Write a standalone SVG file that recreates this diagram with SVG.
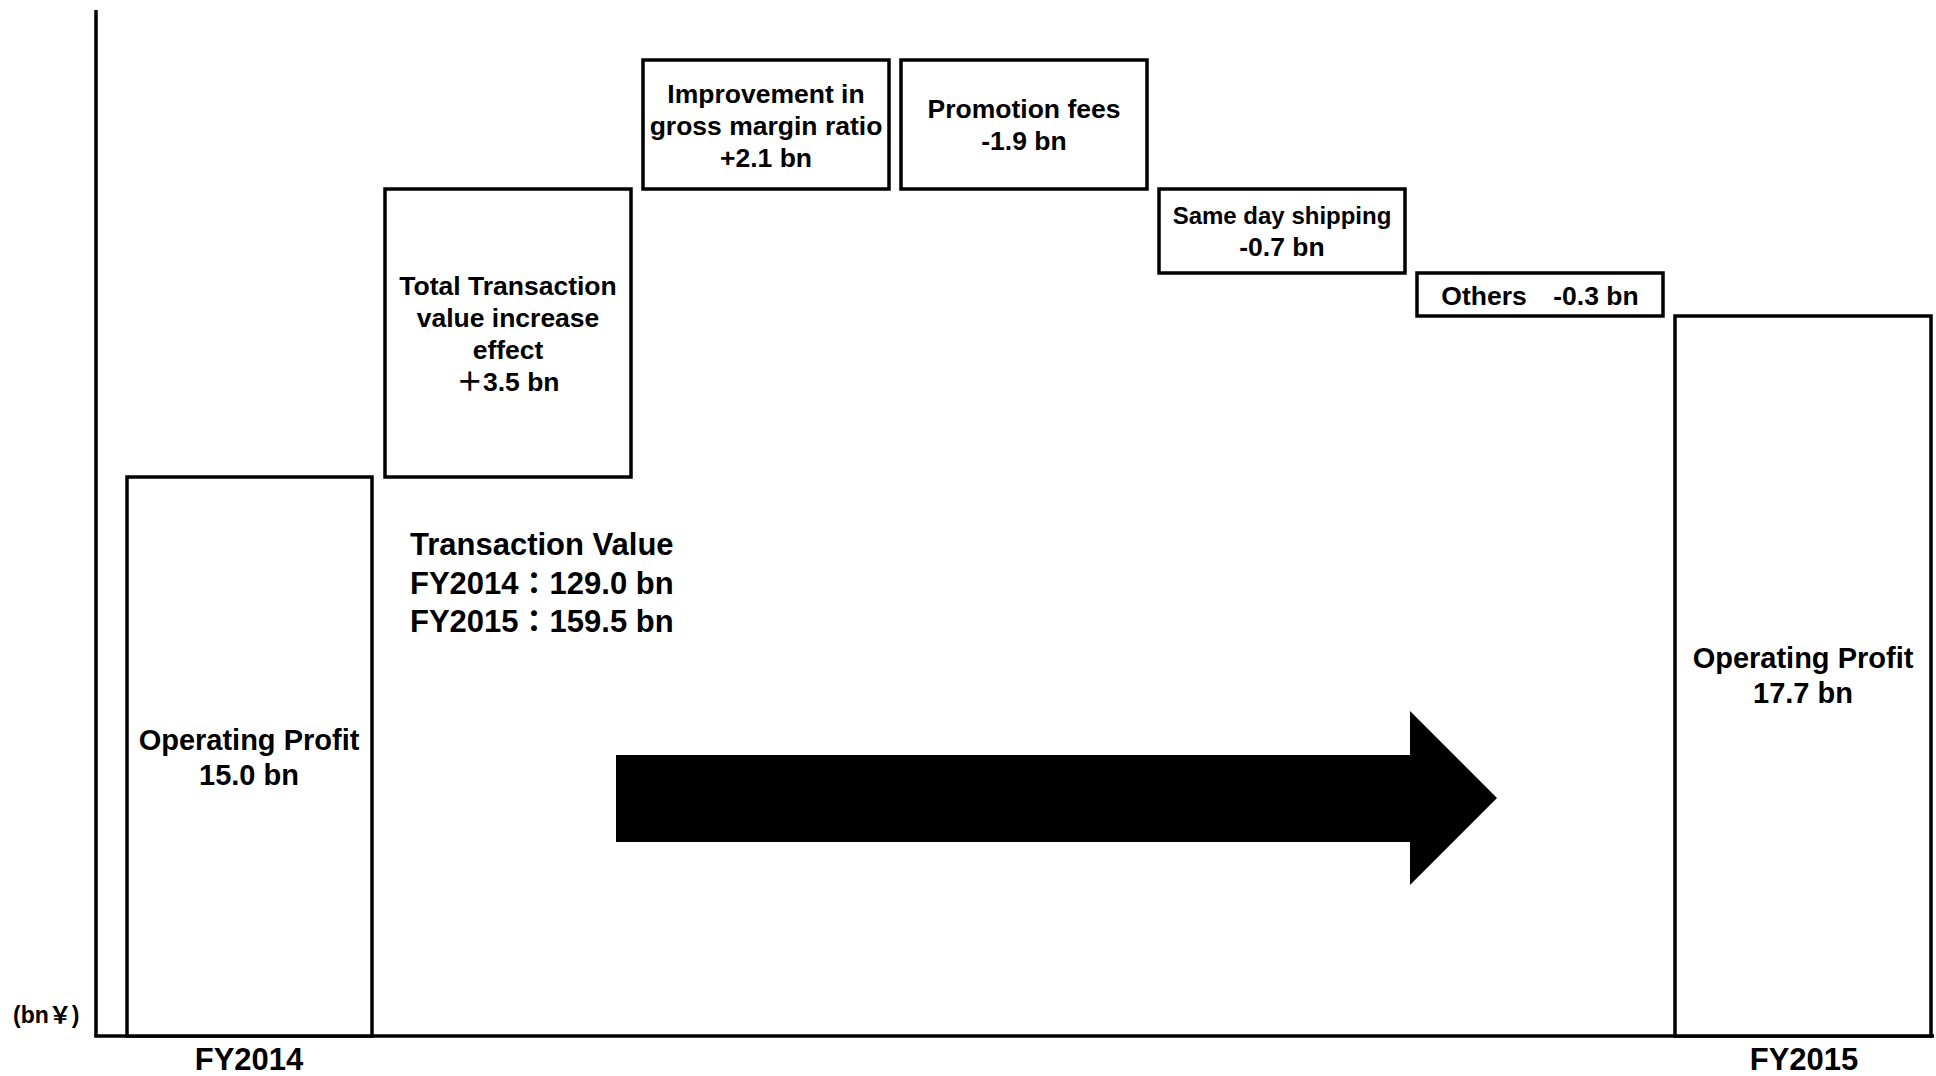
<svg xmlns="http://www.w3.org/2000/svg" width="1936" height="1076" viewBox="0 0 1936 1076">
  <style>
    .box { fill: #ffffff; stroke: #000000; stroke-width: 3.5; }
    .axis { stroke: #000000; stroke-width: 3.5; fill: none; }
    text { font-family: "Liberation Sans", Arial, "Noto Sans CJK JP", sans-serif; font-weight: bold; fill: #000000; }
    .c { text-anchor: middle; }
    .f26 { font-size: 26.5px; }
    .f29 { font-size: 29px; }
    .f31 { font-size: 31px; }
  </style>
  <rect width="1936" height="1076" fill="#ffffff"/>

  <!-- axes -->
  <g id="axes">
    <line class="axis" x1="96" y1="10" x2="96" y2="1036"/>
    <line class="axis" x1="94.25" y1="1036" x2="1934" y2="1036"/>
    <text x="13" y="1023" style="font-size:23px">(bn￥)</text>
    <text class="c f31" x="249" y="1070">FY2014</text>
    <text class="c f31" x="1804" y="1070">FY2015</text>
  </g>

  <!-- starting bar -->
  <g id="op-profit-fy2014">
    <rect class="box" x="127" y="477" width="245" height="559"/>
    <text class="c f29" x="249" y="750">Operating Profit</text>
    <text class="c f29" x="249" y="785">15.0 bn</text>
  </g>

  <!-- increments -->
  <g id="transaction-value-effect">
    <rect class="box" x="385" y="189" width="246" height="288"/>
    <text class="c f26" x="508" y="295">Total Transaction</text>
    <text class="c f26" x="508" y="327">value increase</text>
    <text class="c f26" x="508" y="359">effect</text>
    <text class="c f26" x="508" y="391">＋3.5 bn</text>
  </g>

  <g id="gross-margin">
    <rect class="box" x="643" y="60" width="246" height="129"/>
    <text class="c f26" x="766" y="103">Improvement in</text>
    <text class="c f26" x="766" y="135">gross margin ratio</text>
    <text class="c f26" x="766" y="167">+2.1 bn</text>
  </g>

  <!-- decrements -->
  <g id="promotion-fees">
    <rect class="box" x="901" y="60" width="246" height="129"/>
    <text class="c f26" x="1024" y="118">Promotion fees</text>
    <text class="c f26" x="1024" y="150">-1.9 bn</text>
  </g>

  <g id="same-day-shipping">
    <rect class="box" x="1159" y="189" width="246" height="84"/>
    <text class="c" x="1282" y="224" style="font-size:24px">Same day shipping</text>
    <text class="c f26" x="1282" y="256">-0.7 bn</text>
  </g>

  <g id="others">
    <rect class="box" x="1417" y="273" width="246" height="43"/>
    <text class="c f26" x="1540" y="305">Others　-0.3 bn</text>
  </g>

  <!-- ending bar -->
  <g id="op-profit-fy2015">
    <rect class="box" x="1675" y="316" width="256" height="720"/>
    <text class="c f29" x="1803" y="668">Operating Profit</text>
    <text class="c f29" x="1803" y="703">17.7 bn</text>
  </g>

  <!-- transaction value note -->
  <g id="transaction-value-note">
    <text class="f31" x="410" y="555">Transaction Value</text>
    <text class="f31" x="410" y="594">FY2014：129.0 bn</text>
    <text class="f31" x="410" y="632">FY2015：159.5 bn</text>
  </g>

  <!-- block arrow from FY2014 to FY2015 -->
  <g id="connectors">
    <polygon points="616,755 1410,755 1410,711 1497,798 1410,885 1410,842 616,842" fill="#000000"/>
  </g>
</svg>
